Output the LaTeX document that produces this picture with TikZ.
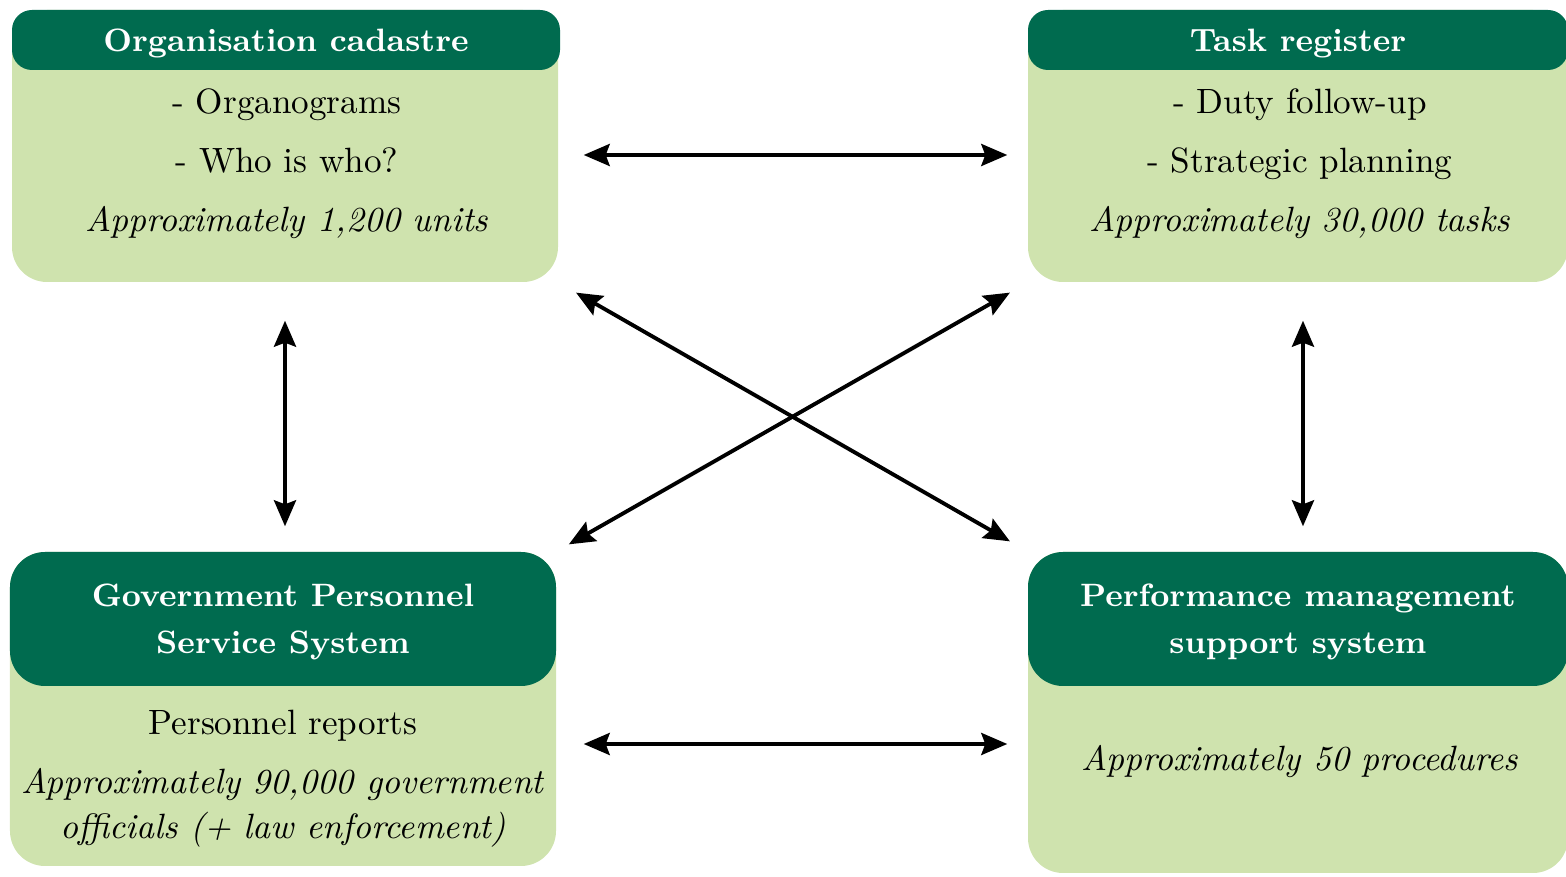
\documentclass[tikz,border=0pt]{standalone}
\usetikzlibrary{arrows.meta}
\definecolor{headgreen}{HTML}{006B4F}
\definecolor{bodygreen}{HTML}{CFE3AE}
\tikzset{
  bodybox/.style={rectangle,rounded corners=0.35cm,fill=bodygreen,inner sep=0pt},
  headbox/.style={rectangle,fill=headgreen,text=white,inner sep=0pt,align=center,
    text depth=0pt,font=\fontsize{9.2}{13.3}\selectfont\bfseries},
  bodytext/.style={align=center,font=\fontsize{10}{16.8}\selectfont},
  dblarrow/.style={line width=1.1pt,
    {Stealth[length=0.26cm,width=0.22cm,inset=0.04cm]}-{Stealth[length=0.26cm,width=0.22cm,inset=0.04cm]}}
}
\begin{document}
\begin{tikzpicture}
\useasboundingbox (0,0) rectangle (15.66,8.77);
% boxes
\node [bodybox,minimum width=5.46cm,minimum height=2.72cm](OrgBody) at (2.85,7.31){};
\node [headbox,rounded corners=0.2cm,minimum width=5.48cm,minimum height=0.6cm](OrgHead) at (2.86,8.37){Organisation cadastre};
\node [bodybox,minimum width=5.4cm,minimum height=2.72cm](TaskBody) at (12.98,7.31){};
\node [headbox,rounded corners=0.2cm,minimum width=5.4cm,minimum height=0.6cm](TaskHead) at (12.98,8.37){Task register};
\node [bodybox,minimum width=5.46cm,minimum height=3.14cm](GovBody) at (2.83,1.68){};
\node [headbox,rounded corners=0.35cm,minimum width=5.46cm,minimum height=1.34cm](GovHead) at (2.83,2.58){Government Personnel\\Service System};
\node [bodybox,minimum width=5.4cm,minimum height=3.21cm](PerfBody) at (12.98,1.645){};
\node [headbox,rounded corners=0.35cm,minimum width=5.4cm,minimum height=1.34cm](PerfHead) at (12.98,2.58){Performance management\\support system};
% contents
\node [bodytext](OrgText) at (2.87,7.13){- Organograms\\- Who is who?\\\textit{Approximately 1,200 units}};
\node [bodytext](TaskText) at (13.0,7.13){- Duty follow-up\\- Strategic planning\\\textit{Approximately 30,000 tasks}};
\node [bodytext](GovText) at (2.83,0.98){Personnel reports\\\textit{Approximately 90,000 government}\\[-4pt]\textit{officials (+ law enforcement)}};
\node [bodytext](PerfText) at (13.0,1.15){\textit{Approximately 50 procedures}};
% links
\draw [dblarrow,shorten <=0.25cm,shorten >=0.2cm]([yshift=-0.09cm]OrgBody.east) -- ([yshift=-0.09cm]TaskBody.west);
\draw [dblarrow,shorten <=0.27cm,shorten >=0.2cm]([yshift=-0.35cm]GovBody.east) -- ([yshift=-0.315cm]PerfBody.west);
\draw [dblarrow,shorten <=0.38cm,shorten >=0.25cm](OrgBody.south) -- (OrgBody.south |- GovHead.north);
\draw [dblarrow,shorten <=0.38cm,shorten >=0.25cm]([xshift=0.05cm]TaskBody.south) -- ([xshift=0.05cm]TaskBody.south |- PerfHead.north);
\draw [dblarrow,shorten <=0.2cm,shorten >=0.2cm](OrgBody.south east) -- (PerfHead.north west);
\draw [dblarrow,shorten <=0.2cm,shorten >=0.14cm](TaskBody.south west) -- (GovHead.north east);
\end{tikzpicture}
\end{document}
